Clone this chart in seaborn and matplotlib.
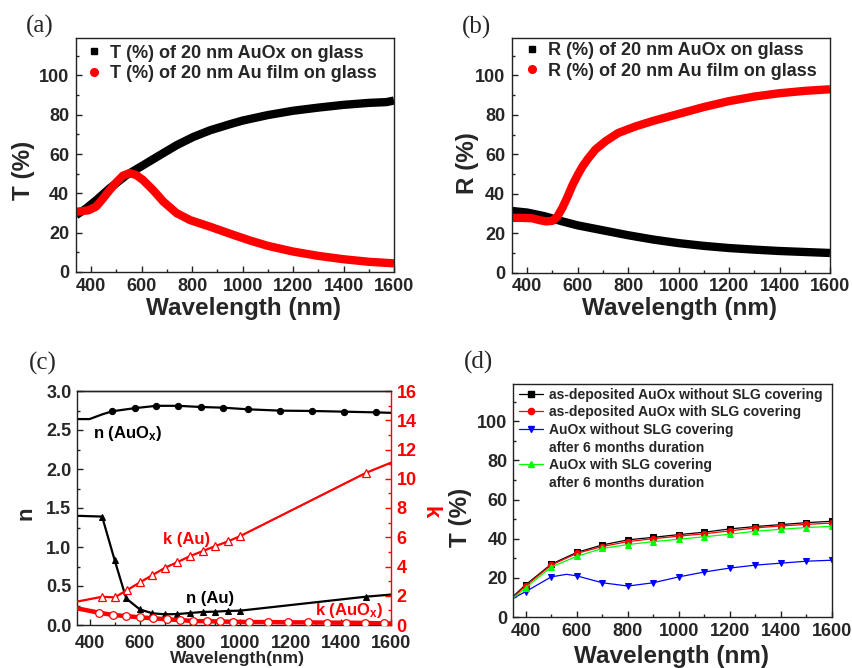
import matplotlib
matplotlib.use('Agg')
import matplotlib.pyplot as plt
import seaborn as sns
from matplotlib.lines import Line2D
from matplotlib.ticker import MultipleLocator, FormatStrFormatter

# ---------------- data ----------------
# (a) transmittance
wl_a_auox = [340, 380, 420, 473, 539, 606, 672, 739, 805, 872, 951, 1000, 1100, 1200,
             1300, 1400, 1500, 1570, 1600]
t_auox = [28.9, 32.3, 36.5, 42.5, 49.2, 54.3, 59.4, 64.5, 68.7, 72.1, 75.2, 77.0, 79.8,
          82.0, 83.6, 85.0, 86.0, 86.4, 87.2]
wl_a_au = [340, 390, 420, 446, 473, 500, 526, 553, 580, 606, 646, 686, 739, 792, 872,
           965, 1030, 1100, 1200, 1300, 1400, 1500, 1600]
t_au = [30.6, 31.4, 33.3, 37.2, 41.6, 45.6, 49.0, 50.3, 49.2, 46.7, 41.6, 35.8, 29.9,
        26.4, 23.0, 18.8, 16.0, 13.3, 10.4, 8.2, 6.5, 5.2, 4.4]
leg_a = ["T (%) of 20 nm AuOx on glass", "T (%) of 20 nm Au film on glass"]

# (b) reflectance
wl_b_auox = [340, 400, 470, 540, 600, 700, 800, 900, 1000, 1100, 1200, 1300, 1400,
             1500, 1600]
r_auox = [31.3, 30.5, 28.6, 26.0, 24.0, 21.5, 19.0, 16.8, 15.0, 13.6, 12.5, 11.7, 11.0,
          10.5, 10.0]
wl_b_au = [340, 380, 420, 450, 475, 500, 520, 540, 560, 580, 600, 620, 640, 670, 710,
           760, 830, 900, 1000, 1100, 1200, 1300, 1400, 1500, 1600]
r_au = [27.8, 27.8, 27.6, 26.6, 26.0, 26.3, 28.5, 33.0, 38.5, 44.5, 49.5, 54.0, 57.6,
        62.4, 66.6, 70.8, 74.2, 77.0, 80.5, 84.0, 87.0, 89.3, 91.0, 92.2, 93.0]
leg_b = ["R (%) of 20 nm AuOx on glass", "R (%) of 20 nm Au film on glass"]

# (c) optical constants
wl_n_auox = [350, 400, 450, 490, 580, 666, 753, 843, 932, 1032, 1160, 1285, 1413, 1540, 1600]
n_auox = [2.64, 2.64, 2.70, 2.74, 2.78, 2.81, 2.81, 2.795, 2.786, 2.765, 2.748, 2.744,
          2.735, 2.726, 2.72]
wl_n_au = [350, 450, 500, 546, 600, 650, 700, 750, 800, 850, 900, 950, 1000, 1500, 1600]
n_au = [1.40, 1.39, 0.83, 0.34, 0.20, 0.15, 0.137, 0.14, 0.154, 0.167, 0.171, 0.18,
        0.184, 0.363, 0.39]
wl_k_au = [350, 450, 500, 550, 600, 650, 700, 750, 800, 850, 900, 950, 1000, 1500, 1600]
k_au = [1.6, 1.93, 1.89, 2.39, 2.91, 3.41, 3.91, 4.30, 4.71, 5.05, 5.39, 5.71, 6.08,
        10.4, 11.1]
wl_k_auox = [350, 438, 494, 547, 600, 653, 707, 760, 813, 866, 919, 973, 1036, 1112,
             1191, 1268, 1345, 1422, 1498, 1571, 1600]
k_auox = [1.14, 0.84, 0.68, 0.61, 0.52, 0.46, 0.39, 0.34, 0.27, 0.26, 0.24, 0.22, 0.20,
          0.20, 0.18, 0.18, 0.16, 0.16, 0.14, 0.11, 0.10]

# (d) stability
wl_d = [350, 400, 500, 600, 700, 800, 900, 1000, 1100, 1200, 1300, 1400, 1500, 1600]
t_dep_noslg = [10.5, 16.5, 27.0, 33.0, 36.8, 39.4, 40.7, 42.1, 43.3, 45.0, 46.2, 47.2, 48.2, 48.9]
t_dep_slg = [10.0, 16.0, 26.5, 32.5, 36.0, 38.5, 40.0, 41.3, 42.5, 44.0, 45.5, 46.5, 47.3, 48.0]
t_aged_slg = [9.5, 15.0, 25.5, 31.0, 35.0, 37.0, 38.5, 39.7, 41.0, 42.3, 43.8, 44.8, 45.7, 46.3]
wl_d_blue = [350, 400, 500, 560, 600, 700, 800, 900, 1000, 1100, 1200, 1300, 1400, 1500, 1600]
t_aged_noslg = [9.5, 13.0, 20.5, 21.8, 21.0, 17.5, 15.8, 17.5, 20.5, 23.0, 25.0, 26.5,
                27.5, 28.5, 29.0]
leg_d = ["as-deposited AuOx without SLG covering", "as-deposited AuOx with SLG covering",
         "AuOx without SLG covering", "after 6 months duration",
         "AuOx with SLG covering", "after 6 months duration"]
panel_tags = ['(a)', '(b)', '(c)', '(d)']

# ---------------- style ----------------
sns.set_theme(style='ticks')
plt.rcParams['font.family'] = ['Liberation Sans', 'DejaVu Sans']
plt.rcParams['font.weight'] = 'bold'
plt.rcParams['axes.labelweight'] = 'bold'
plt.rcParams['mathtext.fontset'] = 'custom'
plt.rcParams['mathtext.rm'] = 'Liberation Sans:bold'
plt.rcParams['mathtext.it'] = 'Liberation Sans:bold'
plt.rcParams['mathtext.bf'] = 'Liberation Sans:bold'

W, H = 852, 668
fig = plt.figure(figsize=(W / 100, H / 100), dpi=100)
fig.patch.set_facecolor('white')
TICK = 13


def box(l, t, r, b):
    return [l / W, (H - b) / H, (r - l) / W, (b - t) / H]


def style(ax, tick_size=TICK, ypad=5.0, xpad=4):
    ax.set_facecolor('white')
    for s in ax.spines.values():
        s.set_linewidth(1.0)
        s.set_color('#222222')
    ax.tick_params(which='both', direction='in', top=False, right=False,
                   labelsize=tick_size, width=1.0, color='#222222')
    ax.tick_params(which='major', length=4.5)
    ax.tick_params(which='minor', length=2.5)
    ax.tick_params(axis='y', pad=ypad)
    ax.tick_params(axis='x', pad=xpad)
    for lab in ax.get_xticklabels() + ax.get_yticklabels():
        lab.set_fontweight('bold')


def place_labels(ax, xl, yl, xpos, ypos, size=17.5):
    ax.set_xlabel(xl, fontsize=size, fontweight='bold', va='center', ha='center')
    ax.set_ylabel(yl, fontsize=size, fontweight='bold', va='center', ha='center')
    ax.xaxis.set_label_coords(*xpos)
    ax.yaxis.set_label_coords(*ypos)


def tag(x, y, s):
    fig.text(x / W, 1 - y / H, s, family=['Liberation Serif', 'DejaVu Serif'],
             fontweight='normal', fontsize=18, va='center', ha='left')


thick = dict(linewidth=6, estimator=None, sort=False, legend=False,
             solid_joinstyle='round', solid_capstyle='butt')

# ---------- (a) ----------
axa = fig.add_axes(box(76, 38, 394, 272))
sns.lineplot(x=wl_a_auox, y=t_auox, ax=axa, color='black', **thick)
sns.lineplot(x=wl_a_au, y=t_au, ax=axa, color='red', **thick)
axa.set_xlim(340, 1600)
axa.set_ylim(0, 119)
axa.xaxis.set_major_locator(MultipleLocator(200))
axa.xaxis.set_minor_locator(MultipleLocator(100))
axa.yaxis.set_minor_locator(MultipleLocator(10))
axa.set_yticks([0, 20, 40, 60, 80, 100])
style(axa)
place_labels(axa, 'Wavelength (nm)', 'T (%)', (0.528, -0.154), (-0.165, 0.436))
ha = [Line2D([], [], linestyle='none', marker='s', color='black', markersize=4),
      Line2D([], [], linestyle='none', marker='o', color='red', markersize=5.5)]
axa.legend(handles=ha, labels=leg_a, loc='upper left', bbox_to_anchor=(0.028, 0.979),
           borderaxespad=0, borderpad=0.1, handlelength=0.8, handletextpad=0.49,
           labelspacing=0.2, frameon=False, prop={'size': 13, 'weight': 'bold'})
tag(26, 26, panel_tags[0])

# ---------- (b) ----------
axb = fig.add_axes(box(512, 38, 830, 272.7))
sns.lineplot(x=wl_b_auox, y=r_auox, ax=axb, color='black', **thick)
sns.lineplot(x=wl_b_au, y=r_au, ax=axb, color='red', **thick)
axb.set_xlim(340, 1600)
axb.set_ylim(0, 119)
axb.xaxis.set_major_locator(MultipleLocator(200))
axb.xaxis.set_minor_locator(MultipleLocator(100))
axb.yaxis.set_minor_locator(MultipleLocator(10))
axb.set_yticks([0, 20, 40, 60, 80, 100])
style(axb)
place_labels(axb, 'Wavelength (nm)', 'R (%)', (0.528, -0.152), (-0.139, 0.469))
hb = [Line2D([], [], linestyle='none', marker='s', color='black', markersize=4),
      Line2D([], [], linestyle='none', marker='o', color='red', markersize=5.5)]
axb.legend(handles=hb, labels=leg_b, loc='upper left', bbox_to_anchor=(0.035, 0.99),
           borderaxespad=0, borderpad=0.1, handlelength=0.8, handletextpad=0.49,
           labelspacing=0.2, frameon=False, prop={'size': 13, 'weight': 'bold'})
tag(462, 27, panel_tags[1])

# ---------- (c) ----------
axc = fig.add_axes(box(77, 391, 391, 625))
axk = axc.twinx()
sns.lineplot(x=wl_n_auox, y=n_auox, ax=axc, color='black', linewidth=1.6,
             marker='o', markersize=4.5, markevery=list(range(3, 14)),
             markeredgecolor='black', estimator=None, sort=False, legend=False)
sns.lineplot(x=wl_n_au, y=n_au, ax=axc, color='black', linewidth=1.6,
             marker='^', markersize=5, markevery=list(range(1, 14)),
             markeredgecolor='black', estimator=None, sort=False, legend=False)
sns.lineplot(x=wl_k_au, y=k_au, ax=axk, color='red', linewidth=1.6,
             marker='^', markersize=6, markevery=list(range(1, 14)),
             markerfacecolor='white', markeredgecolor='red', markeredgewidth=0.9,
             estimator=None, sort=False, legend=False)
sns.lineplot(x=wl_k_auox, y=k_auox, ax=axk, color='red', linewidth=3.2,
             marker='o', markersize=5.5, markevery=list(range(1, 20)),
             markerfacecolor='white', markeredgecolor='red', markeredgewidth=0.9,
             estimator=None, sort=False, legend=False)
axc.set_xlim(350, 1600)
axc.set_ylim(0, 3.0)
axk.set_ylim(0, 16)
axc.xaxis.set_major_locator(MultipleLocator(200))
axc.xaxis.set_minor_locator(MultipleLocator(100))
axc.yaxis.set_major_locator(MultipleLocator(0.5))
axc.yaxis.set_minor_locator(MultipleLocator(0.25))
axk.yaxis.set_major_locator(MultipleLocator(2))
axk.yaxis.set_minor_locator(MultipleLocator(1))
style(axc, ypad=4, xpad=7.5)
axc.spines['right'].set_visible(False)
axc.yaxis.set_major_formatter(FormatStrFormatter('%.1f'))
for s in axk.spines.values():
    s.set_linewidth(1.0)
axk.spines['right'].set_color('red')
axk.spines['left'].set_visible(False)
axk.spines['top'].set_color('#222222')
axk.spines['bottom'].set_visible(False)
axk.tick_params(axis='y', which='both', direction='in', colors='red', labelsize=TICK,
                pad=4, width=1.0)
axk.tick_params(axis='y', which='major', length=4.5)
axk.tick_params(axis='y', which='minor', length=2.5)
for lab in axk.get_yticklabels():
    lab.set_fontweight('bold')
place_labels(axc, 'Wavelength(nm)', 'n', (0.51, -0.143), (-0.161, 0.479), size=12.5)
axc.yaxis.label.set_fontsize(16)
axk.set_ylabel('k', fontsize=16, fontweight='bold', color='red', rotation=270)
axk.yaxis.label.set_va('center')
axk.yaxis.label.set_ha('center')
axk.yaxis.set_label_coords(1.124, 0.483)
axc.text(414, 2.46, r'n (AuO$_{x}$)', fontsize=12, fontweight='bold', color='black',
         va='center', ha='left')
axc.text(694, 1.10, 'k (Au)', fontsize=12, fontweight='bold', color='red',
         va='center', ha='left')
axc.text(784, 0.34, 'n (Au)', fontsize=12, fontweight='bold', color='black',
         va='center', ha='left')
axc.text(1297, 0.18, r'k (AuO$_{x}$)', fontsize=12, fontweight='bold', color='red',
         va='center', ha='left', zorder=10)
tag(29, 363, panel_tags[2])

# ---------- (d) ----------
axd = fig.add_axes(box(513, 384, 832, 617))
lw_d = 0.9
sns.lineplot(x=wl_d, y=t_dep_noslg, ax=axd, color='black', linewidth=lw_d,
             marker='s', markersize=4, markevery=list(range(1, 14)),
             markeredgecolor='black', estimator=None, sort=False, legend=False)
sns.lineplot(x=wl_d, y=t_dep_slg, ax=axd, color='red', linewidth=lw_d,
             marker='o', markersize=4.5, markevery=list(range(1, 14)),
             markeredgecolor='red', estimator=None, sort=False, legend=False)
sns.lineplot(x=wl_d_blue, y=t_aged_noslg, ax=axd, color='blue', linewidth=lw_d,
             marker='v', markersize=5, markevery=[1, 2, 4, 5, 6, 7, 8, 9, 10, 11, 12, 13, 14],
             markeredgecolor='blue', estimator=None, sort=False, legend=False)
sns.lineplot(x=wl_d, y=t_aged_slg, ax=axd, color='#00ff00', linewidth=lw_d,
             marker='^', markersize=5, markevery=list(range(1, 14)),
             markeredgecolor='#00ff00', estimator=None, sort=False, legend=False)
axd.set_xlim(350, 1600)
axd.set_ylim(0, 119)
axd.xaxis.set_major_locator(MultipleLocator(200))
axd.xaxis.set_minor_locator(MultipleLocator(100))
axd.yaxis.set_minor_locator(MultipleLocator(10))
axd.set_yticks([0, 20, 40, 60, 80, 100])
style(axd, ypad=4, xpad=4.5)
place_labels(axd, 'Wavelength (nm)', 'T (%)', (0.497, -0.170), (-0.166, 0.429))
none = Line2D([], [], linestyle='none', marker='')
hd = [Line2D([], [], color='black', lw=lw_d, marker='s', markersize=4),
      Line2D([], [], color='red', lw=lw_d, marker='o', markersize=4.5),
      Line2D([], [], color='blue', lw=lw_d, marker='v', markersize=5),
      none,
      Line2D([], [], color='#00ff00', lw=lw_d, marker='^', markersize=5),
      none]
axd.legend(handles=hd, labels=leg_d, loc='upper left', bbox_to_anchor=(0.0166, 0.987),
           borderaxespad=0, borderpad=0.05, handlelength=1.73, handletextpad=0.43,
           labelspacing=0.26, frameon=False, prop={'size': 10, 'weight': 'bold'})
tag(464, 362, panel_tags[3])

fig.savefig('out.png', dpi=100, facecolor='white')
